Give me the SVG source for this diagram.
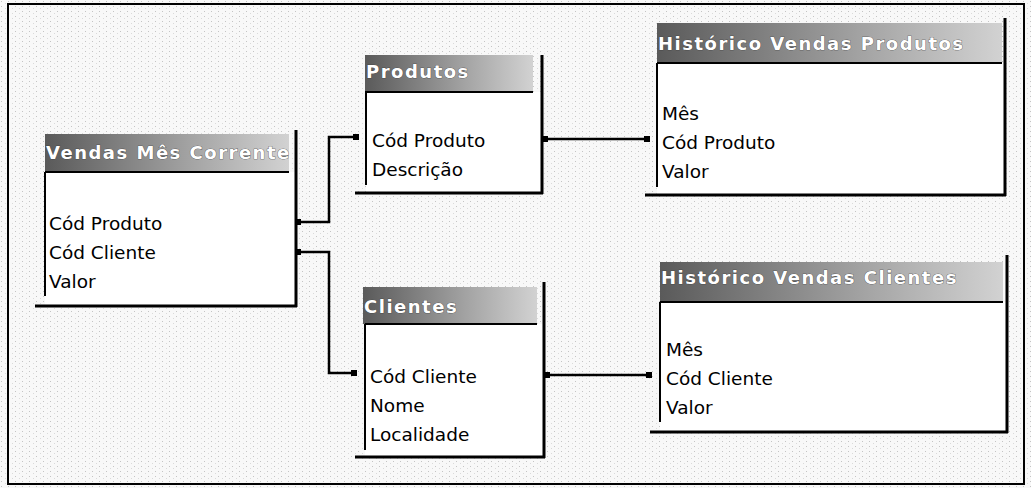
<svg xmlns="http://www.w3.org/2000/svg" width="1031" height="488" viewBox="0 0 1031 488">
<defs>
<pattern id="dots" width="7" height="5" patternUnits="userSpaceOnUse">
<rect width="7" height="5" fill="#f8f8f8"/>
<rect x="1" y="1" width="1" height="1" fill="#c4c4c4"/>
<rect x="5" y="3" width="1" height="1" fill="#dadada"/>
</pattern>
<linearGradient id="hdr" x1="0" y1="0" x2="1" y2="0">
<stop offset="0" stop-color="#5a5a5a"/>
<stop offset="0.6" stop-color="#a4a4a4"/>
<stop offset="1" stop-color="#d2d2d2"/>
</linearGradient>
<marker id="dot" viewBox="0 0 6 6" refX="3" refY="3" markerWidth="6" markerHeight="6" markerUnits="userSpaceOnUse">
<rect width="6" height="6" fill="#000"/>
</marker>
</defs>
<style>
.hdr{fill:url(#hdr)}
.body{fill:#fff}
.ln{stroke:#000;fill:none}
.thin{stroke-width:2}
.thick{stroke-width:3}
.title{font-family:"DejaVu Sans",sans-serif;font-weight:bold;font-size:18px;letter-spacing:1.5px;fill:#fff;stroke:#333;stroke-width:0.6;paint-order:stroke}
.fld{font-family:"DejaVu Sans",sans-serif;font-size:18.5px;fill:#000}
.conn{stroke:#000;stroke-width:2.5;fill:none;marker-start:url(#dot);marker-end:url(#dot)}
</style>
<rect x="0" y="0" width="1031" height="488" fill="url(#dots)"/>
<rect x="8" y="4" width="1016" height="480" fill="none" stroke="#000" stroke-width="2"/>

<g id="vendas-mes-corrente">
<rect class="hdr" x="45" y="134" width="244" height="38"/>
<text class="title" x="46" y="159">Vendas Mês Corrente</text>
<rect class="body" x="45" y="172" width="251" height="134"/>
<path class="ln thin" d="M45 172H289M45 172V296"/>
<path class="ln thick" d="M296 130V307M35 306H297"/>
<text class="fld" x="49" y="230">Cód Produto</text>
<text class="fld" x="49" y="259">Cód Cliente</text>
<text class="fld" x="49" y="288">Valor</text>
</g>

<g id="produtos">
<rect class="hdr" x="365" y="55" width="168" height="37"/>
<text class="title" x="366" y="78">Produtos</text>
<rect class="body" x="366" y="92" width="176" height="101"/>
<path class="ln thin" d="M365 92H533M366 92V185"/>
<path class="ln thick" d="M542 55V194M355 193H543"/>
<text class="fld" x="372" y="147">Cód Produto</text>
<text class="fld" x="372" y="176">Descrição</text>
</g>

<g id="historico-vendas-produtos">
<rect class="hdr" x="657" y="23" width="345" height="40"/>
<text class="title" x="658" y="50">Histórico Vendas Produtos</text>
<rect class="body" x="657" y="63" width="348" height="132"/>
<path class="ln thin" d="M657 63H1002M657 63V187"/>
<path class="ln thick" d="M1005 18V196M645 195H1006"/>
<text class="fld" x="662" y="120">Mês</text>
<text class="fld" x="662" y="149">Cód Produto</text>
<text class="fld" x="662" y="178">Valor</text>
</g>

<g id="clientes">
<rect class="hdr" x="363" y="287" width="174" height="37"/>
<text class="title" x="364" y="313">Clientes</text>
<rect class="body" x="365" y="324" width="179" height="133"/>
<path class="ln thin" d="M365 324H537M365 324V450"/>
<path class="ln thick" d="M544 282V458M355 457H545"/>
<text class="fld" x="370" y="383">Cód Cliente</text>
<text class="fld" x="370" y="412">Nome</text>
<text class="fld" x="370" y="441">Localidade</text>
</g>

<g id="historico-vendas-clientes">
<rect class="hdr" x="660" y="262" width="343" height="40"/>
<text class="title" x="661" y="284">Histórico Vendas Clientes</text>
<rect class="body" x="660" y="302" width="347" height="130"/>
<path class="ln thin" d="M660 302H1003M660 302V422"/>
<path class="ln thick" d="M1007 255V433M650 432H1008"/>
<text class="fld" x="666" y="356">Mês</text>
<text class="fld" x="666" y="385">Cód Cliente</text>
<text class="fld" x="666" y="414">Valor</text>
</g>

<g id="connectors">
<path class="conn" d="M298 222H329V137H356"/>
<path class="conn" d="M298 252H329V373H354"/>
<path class="conn" d="M545 139H647"/>
<path class="conn" d="M547 375H649"/>
</g>
</svg>
